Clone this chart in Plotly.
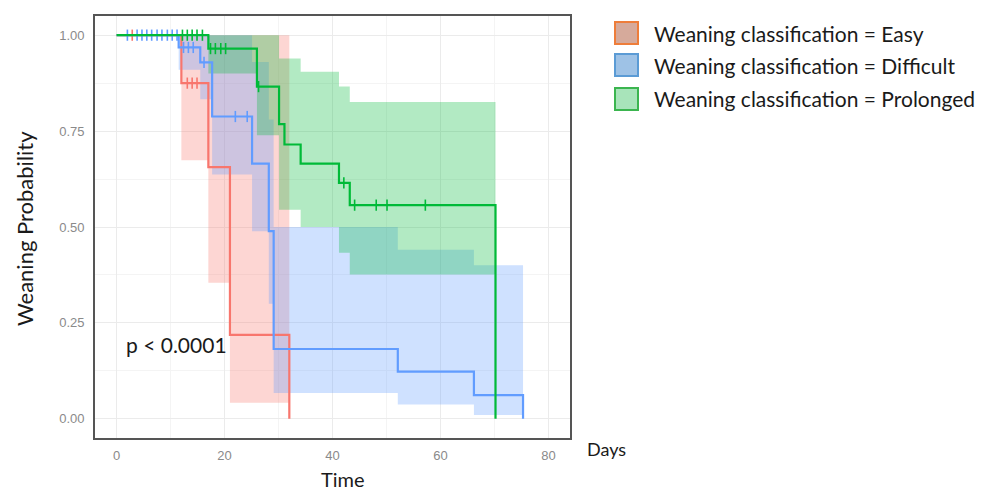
import plotly.graph_objects as go
import bisect

# ---------------- data ----------------
easy_time = [0, 12, 17, 21, 32]
easy_surv = [1.0, 0.875, 0.656, 0.219, 0.0]
easy_ci_time = [12, 17, 21, 32]
easy_lower = [0.674, 0.355, 0.042, 0.042]
easy_upper = [1.0, 1.0, 1.0, 1.0]
easy_censor = [2.9, 13.1, 14.0, 14.9]

diff_time = [0, 11.5, 15.5, 17.7, 25.1, 28.2, 29.1, 52.1, 66.2, 75.3]
diff_surv = [1.0, 0.968, 0.929, 0.788, 0.665, 0.489, 0.182, 0.123, 0.062, 0.0]
diff_ci_time = [11.5, 15.5, 17.7, 25.1, 28.2, 29.1, 52.1, 66.2, 75.3]
diff_lower = [0.91, 0.833, 0.637, 0.489, 0.30, 0.067, 0.037, 0.010, 0.010]
diff_upper = [1.0, 1.0, 1.0, 0.93, 0.78, 0.50, 0.441, 0.40, 0.40]
diff_censor = [2.0, 3.8, 4.7, 5.6, 6.5, 7.5, 8.4, 9.4, 10.3, 11.2,
               12.4, 13.3, 14.2, 16.2, 22.0, 24.2]

prol_time = [0, 17, 26, 30.1, 31.1, 34.1, 41.2, 43.2, 70.2]
prol_surv = [1.0, 0.965, 0.866, 0.768, 0.715, 0.665, 0.615, 0.557, 0.0]
prol_ci_time = [17, 26, 30.1, 31.1, 34.1, 41.2, 43.2, 70.2]
prol_lower = [0.90, 0.739, 0.545, 0.545, 0.50, 0.433, 0.376, 0.376]
prol_upper = [1.0, 1.0, 0.939, 0.939, 0.905, 0.866, 0.826, 0.826]
prol_censor = [12.2, 13.1, 14.0, 14.9, 15.9, 17.4, 18.3, 19.3, 20.2,
               26.3, 42.1, 44.1, 48.1, 50.1, 57.2]

group_names = ["Weaning classification = Easy",
               "Weaning classification = Difficult",
               "Weaning classification = Prolonged"]
x_ticks = [0, 20, 40, 60, 80]
y_ticks = [0.0, 0.25, 0.5, 0.75, 1.0]

# ---------------- styles ----------------
line_colors = ["#F8766D", "#619CFF", "#00BA38"]
fill_colors = ["rgba(248,118,109,0.3)", "rgba(97,156,255,0.3)", "rgba(0,186,56,0.3)"]
legend_fill = ["#D6AA9B", "#9EC2E6", "#A8E4BA"]
legend_border = ["#EE7D3A", "#5B9BD5", "#3BB54F"]
TXT_FONT = "Lato, 'Open Sans', sans-serif"

groups = [
    (easy_time, easy_surv, easy_ci_time, easy_lower, easy_upper, easy_censor),
    (diff_time, diff_surv, diff_ci_time, diff_lower, diff_upper, diff_censor),
    (prol_time, prol_surv, prol_ci_time, prol_lower, prol_upper, prol_censor),
]


def surv_at(times, surv, t):
    i = bisect.bisect_right(times, t) - 1
    return surv[max(i, 0)]


fig = go.Figure()

# ribbons
for g, (t, s, ct, lo, up, cens) in enumerate(groups):
    fig.add_trace(go.Scatter(x=ct, y=lo, mode="lines", line=dict(width=0, shape="hv"),
                             hoverinfo="skip", showlegend=False))
    fig.add_trace(go.Scatter(x=ct, y=up, mode="lines", line=dict(width=0, shape="hv"),
                             fill="tonexty", fillcolor=fill_colors[g],
                             hoverinfo="skip", showlegend=False))

# curves and censor marks
for g, (t, s, ct, lo, up, cens) in enumerate(groups):
    fig.add_trace(go.Scatter(x=t, y=s, mode="lines",
                             line=dict(color=line_colors[g], width=2.2, shape="hv"),
                             name=group_names[g], showlegend=False))
    fig.add_trace(go.Scatter(x=cens, y=[surv_at(t, s, c) for c in cens], mode="markers",
                             marker=dict(symbol="line-ns", size=8,
                                         line=dict(color=line_colors[g], width=1.6)),
                             hoverinfo="skip", showlegend=False))

# body margin is removed by post_script, so the figure sits at the page origin
W, H = 987, 490
PL, PR, PT, PB = 95, 570, 16, 438
PW, PH = PR - PL, PB - PT


def px(xs):
    return (xs - PL) / PW


def py(ys):
    return (PB - ys) / PH


# manual legend
legend_y = [33, 65, 99]
for g in range(3):
    yc = legend_y[g]
    fig.add_shape(type="rect", xref="paper", yref="paper",
                  x0=px(615), x1=px(638), y0=py(yc + 11), y1=py(yc - 11),
                  fillcolor=legend_fill[g], line=dict(color=legend_border[g], width=2))
    fig.add_annotation(xref="paper", yref="paper", x=px(652), y=py(yc),
                       text=group_names[g], showarrow=False,
                       xanchor="left", yanchor="middle",
                       font=dict(family=TXT_FONT, size=21, color="#1a1a1a"))

# text annotations
fig.add_annotation(xref="paper", yref="paper", x=px(124), y=py(344),
                   text="p < 0.0001", showarrow=False, xanchor="left", yanchor="middle",
                   font=dict(family=TXT_FONT, size=21, color="#1a1a1a"))
fig.add_annotation(xref="paper", yref="paper", x=px(606), y=py(449),
                   text="Days", showarrow=False, xanchor="center", yanchor="middle",
                   font=dict(family=TXT_FONT, size=18, color="#1a1a1a"))
fig.add_annotation(xref="paper", yref="paper", x=px(343), y=py(479),
                   text="Time", showarrow=False, xanchor="center", yanchor="middle",
                   font=dict(family=TXT_FONT, size=20, color="#1a1a1a"))
fig.add_annotation(xref="paper", yref="paper", x=px(25), y=py(229),
                   text="Weaning Probability", showarrow=False, textangle=-90,
                   xanchor="center", yanchor="middle",
                   font=dict(family=TXT_FONT, size=22, color="#1a1a1a"))

tick_font = dict(family="Liberation Sans, Arial, sans-serif", size=13, color="#8a8a8a")
fig.update_layout(
    width=W, height=H,
    margin=dict(l=PL, r=W - PR, t=PT, b=H - PB),
    paper_bgcolor="white", plot_bgcolor="white",
    showlegend=False,
    xaxis=dict(range=[-4, 84], tickvals=x_ticks, ticks="",
               showgrid=True, gridcolor="#EBEBEB", gridwidth=1,
               minor=dict(dtick=10, tick0=10, showgrid=True, gridcolor="#F4F4F4", gridwidth=0.8),
               showline=True, mirror=True, linecolor="#555555", linewidth=1.6,
               zeroline=False, ticklabelstandoff=5, tickfont=tick_font),
    yaxis=dict(range=[-0.05, 1.05], tickvals=y_ticks, tickformat=".2f", ticks="",
               showgrid=True, gridcolor="#EBEBEB", gridwidth=1,
               minor=dict(dtick=0.125, tick0=0.125, showgrid=True, gridcolor="#F4F4F4", gridwidth=0.8),
               showline=True, mirror=True, linecolor="#555555", linewidth=1.6,
               zeroline=False, ticklabelstandoff=6, tickfont=tick_font),
)

fig.write_html(
    "out.html",
    config={"displayModeBar": False},
    post_script="document.body.style.margin='0px';document.body.style.overflow='hidden';"
                "document.documentElement.style.overflow='hidden';",
)
